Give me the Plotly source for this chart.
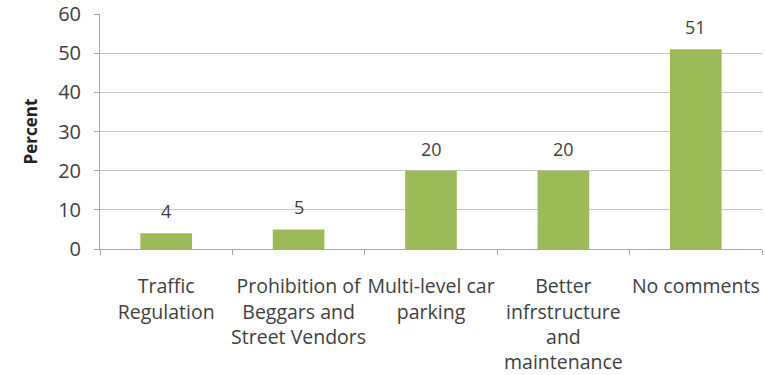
import plotly.graph_objects as go

categories = ["Traffic<br>Regulation", "Prohibition of<br>Beggars and<br>Street Vendors",
              "Multi-level car<br>parking", "Better<br>infrstructure<br>and<br>maintenance",
              "No comments"]
values = [4, 5, 20, 20, 51]
y_ticks = [0, 10, 20, 30, 40, 50, 60]

font_family = "Open Sans, Lato, sans-serif"
text_color = "#404040"

fig = go.Figure()
fig.add_trace(go.Bar(x=categories, y=values, marker_color="#9bbb59",
                     marker_line_width=0, width=0.39))

for c, v in zip(categories, values):
    fig.add_annotation(x=c, y=v, text=str(v), showarrow=False, yanchor="bottom",
                       yshift=8, font=dict(family=font_family, size=18, color=text_color))

fig.update_layout(
    width=765, height=375,
    margin=dict(l=100, r=3, t=14, b=126),
    plot_bgcolor="white", paper_bgcolor="white",
    showlegend=False,
    font=dict(family=font_family, size=19, color=text_color),
)
fig.update_xaxes(
    type="category", showline=True, linecolor="#a6a6a6", linewidth=1,
    ticks="outside", tickson="boundaries", ticklen=5, tickcolor="#a6a6a6",
    tickangle=0, ticklabelstandoff=20, automargin=False,
    tickfont=dict(family=font_family, size=19.5, color=text_color),
)
fig.update_yaxes(
    range=[0, 60], tickvals=y_ticks, showgrid=True, gridcolor="#c4c4c4", gridwidth=1,
    showline=True, linecolor="#a6a6a6", linewidth=1, ticks="outside", ticklen=5,
    tickcolor="#a6a6a6", zeroline=False, ticklabelstandoff=9, automargin=False,
    tickfont=dict(family=font_family, size=20, color=text_color),
    title=dict(text="<b>Percent</b>", font=dict(family=font_family, size=17, color="#222222"),
               standoff=16),
)

fig.write_html("out.html")
